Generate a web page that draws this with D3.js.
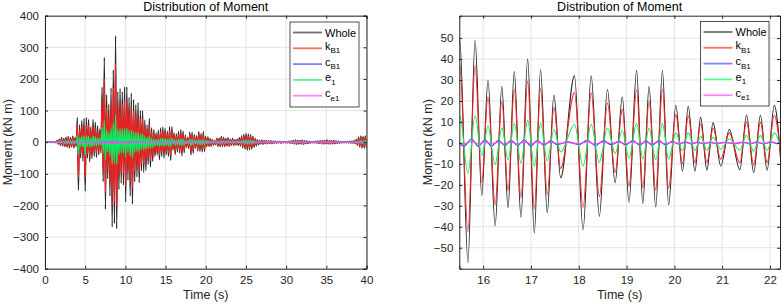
<!DOCTYPE html>
<html>
<head>
<meta charset="utf-8">
<script src="https://cdn.jsdelivr.net/npm/d3@7"></script>
<style>
  html, body { margin: 0; padding: 0; background: #fff; }
  svg { display: block; font-family: "Liberation Sans", Arial, Helvetica, sans-serif; }
</style>
</head>
<body>
<svg id="chart" width="782" height="304"></svg>
<script>
// ---- Left panel: whole record 0-40 s, one peak + one trough per cycle ----
const leftStart = 0.1;   // s, time of first peak
const leftPeriod = 0.28; // s, cycle length

const wholeTop = [0.5,0.5,1,1,2, 6,10,14,12,16,18,14,20,15,
  78,55,68,75,78,72,48,72,63,52,42,
  174,268,150,120,172,229,336,160,170,160,175,175,142,155,
  135,118,125,100,100,70,55,75,45,40,30,38,
  45,48,44,35,49,49,30,27,34,40,35,23,
  15,32,32,25,21,34,27,34,18,17,12,9,6,13,13,18,
  15,12,14,10,12,8,10, 14,20,25,28,26,24,18,12,
  8,6,7,5,6,4,5,3,3, 2,3,2,2,2,3,4, 6,7,5,6,7,5,4,3, 2,2,3,4,
  5,6,5,7,6,5,6,4, 3,2,2,2,2,3,3,5, 10,16,20,18,20];
const wholeBot = [-0.5,-0.5,-1,-1,-2, -6,-10,-12,-14,-16,-18,-15,-19,-14,
  -152,-50,-60,-155,-50,-62,-52,-45,-48,-40,-35,
  -125,-212,-115,-170,-268,-257,-273,-150,-130,-136,-189,-120,-170,-196,
  -125,-110,-128,-90,-95,-89,-70,-78,-60,-45,-40,-55,
  -45,-50,-40,-45,-57,-25,-39,-31,-35,-43,-33,-17,
  -20,-41,-35,-19,-28,-29,-31,-29,-14,-13,-13,-10,-8,-13,-14,-13,
  -14,-12,-13,-10,-11,-9,-10, -12,-18,-22,-25,-24,-22,-16,-12,
  -8,-6,-7,-5,-5,-4,-5,-3,-3, -2,-3,-2,-2,-2,-3,-4, -6,-7,-6,-6,-7,-5,-4,-3, -2,-2,-3,-4,
  -5,-6,-5,-6,-6,-5,-5,-4, -3,-2,-2,-2,-2,-3,-3,-5, -10,-15,-19,-18,-19];

const kB1Top = [0.4,0.4,0.7,0.7,1.5, 4,7,10,9,12,13,10,15,11,
  58,40,50,55,57,53,35,53,46,38,31,
  128,200,110,88,127,170,250,118,126,118,130,130,105,115,
  100,87,92,74,74,52,40,55,33,30,22,28,
  33,35,32,26,37,37,22,20,25,29,26,17,
  11,24,24,19,16,25,20,25,13,13,9,7,5,10,10,13,
  11,9,10,7,9,6,7, 10,15,18,21,19,18,13,9,
  6,4,5,4,4,3,4,2,2, 1.5,2,1.5,1.5,1.5,2,3, 4,5,4,4,5,4,3,2, 1.5,1.5,2,3,
  4,4,4,5,4,4,4,3, 2,1.5,1.5,1.5,1.5,2,2,4, 7,12,15,13,15];
const kB1Bot = [-0.4,-0.4,-0.7,-0.7,-1.5, -4,-7,-9,-10,-12,-13,-11,-14,-10,
  -112,-37,-44,-114,-37,-46,-38,-33,-35,-30,-26,
  -92,-157,-85,-126,-198,-190,-202,-111,-96,-100,-140,-89,-126,-145,
  -92,-81,-95,-67,-70,-66,-52,-58,-44,-33,-30,-41,
  -33,-37,-30,-33,-42,-19,-29,-23,-26,-31,-25,-12,
  -15,-31,-26,-14,-21,-21,-22,-22,-10,-9,-9,-7,-6,-9,-10,-9,
  -10,-9,-10,-7,-8,-7,-7, -9,-13,-16,-18,-18,-16,-12,-9,
  -6,-4,-5,-4,-4,-3,-4,-2,-2, -1.5,-2,-1.5,-1.5,-1.5,-2,-3, -4,-5,-4,-4,-5,-4,-3,-2, -1.5,-1.5,-2,-3,
  -4,-4,-4,-4,-4,-4,-4,-3, -2,-1.5,-1.5,-1.5,-1.5,-2,-2,-4, -7,-11,-14,-13,-14];

const e1Top = [0.1,0.1,0.3,0.3,0.5, 2,3,4,3,4,5,4,5,4,
  20,15,18,20,21,19,13,19,17,14,11,
  46,68,40,32,45,60,86,42,44,42,45,45,37,40,
  35,31,33,26,26,18,15,20,12,10,8,10,
  12,13,12,9,13,13,8,7,9,11,9,6,
  4,9,9,7,6,9,7,9,5,5,3.5,2.5,2,3.5,3.5,5,
  4,3,4,3,3,2,3, 4,5,7,7,7,6,5,3,
  2,1.5,2,1.3,1.5,1,1.3,0.8,0.8, 0.5,0.8,0.5,0.5,0.5,0.8,1, 1.5,2,1.3,1.5,2,1.3,1,0.8, 0.5,0.5,0.8,1,
  1.3,1.5,1.3,2,1.5,1.3,1.5,1, 0.8,0.5,0.5,0.5,0.5,0.8,0.8,1.3, 3,4,5,5,5];
const e1Bot = [-0.1,-0.1,-0.3,-0.3,-0.5, -2,-3,-3,-4,-4,-5,-4,-5,-4,
  -40,-13,-16,-41,-13,-16,-14,-12,-13,-10,-9,
  -33,-55,-30,-44,-70,-67,-71,-39,-34,-36,-49,-31,-44,-51,
  -33,-29,-33,-23,-25,-23,-18,-20,-16,-12,-10,-14,
  -12,-13,-10,-12,-15,-6,-10,-8,-9,-11,-8.5,-4.3,
  -5,-11,-9,-5,-7,-7.6,-8,-7.7,-3.7,-3.6,-3.5,-3,-2,-3.4,-4,-3.5,
  -4,-3,-3,-3,-3,-2,-3, -3,-5,-6,-7,-6,-6,-4,-3,
  -2,-1.5,-2,-1.3,-1.3,-1,-1.3,-0.8,-0.8, -0.5,-0.8,-0.5,-0.5,-0.5,-0.8,-1, -1.5,-2,-1.5,-1.5,-2,-1.3,-1,-0.8, -0.5,-0.5,-0.8,-1,
  -1.3,-1.5,-1.3,-1.5,-1.5,-1.3,-1.3,-1, -0.8,-0.5,-0.5,-0.5,-0.5,-0.8,-0.8,-1.3, -3,-4,-5,-5,-5];

// damping terms: amplitude per cycle (extrema sit between the stiffness extrema)
const cB1Amp = [0,0,0,0,0.1, 0.3,0.4,0.5,0.5,0.6,0.7,0.6,0.7,0.6,
  3,2,2.5,3,3,2.5,2,2.5,2.2,2,1.6,
  6,8,5,5,8,8,9,5,5,5,6,5,5,6,
  4.5,4,4.5,3.5,3.5,3,2.5,3,2,1.7,1.4,1.8,
  1.8,1.8,1.6,1.5,1.7,1.7,1.5,1.3,1.3,1.5,1.3,0.9,
  0.6,1.2,1.1,0.9,0.9,1.1,1,1,0.7,0.5,0.4,0.3,0.3,0.5,0.5,0.5,
  0.5,0.4,0.5,0.4,0.4,0.3,0.4, 0.5,0.7,0.8,0.9,0.9,0.8,0.6,0.4,
  0.3,0.2,0.2,0.2,0.2,0.1,0.2,0.1,0.1, 0.1,0.1,0.1,0.1,0.1,0.1,0.1, 0.2,0.2,0.2,0.2,0.2,0.2,0.1,0.1, 0.1,0.1,0.1,0.1,
  0.2,0.2,0.2,0.2,0.2,0.2,0.2,0.1, 0.1,0.1,0.1,0.1,0.1,0.1,0.1,0.2, 0.4,0.6,0.7,0.7,0.7];
const ce1Amp = [0,0,0,0,0, 0.1,0.2,0.2,0.2,0.2,0.3,0.2,0.3,0.2,
  1.2,0.8,1,1.2,1.2,1,0.8,1,0.9,0.8,0.6,
  2.5,3.5,2,2,3.5,3.5,4,2,2,2,2.5,2,2,2.5,
  2,1.6,1.8,1.4,1.4,1.2,1,1.2,0.8,0.7,0.6,0.7,
  0.7,0.7,0.6,0.6,0.7,0.7,0.6,0.5,0.5,0.6,0.5,0.4,
  0.2,0.5,0.5,0.4,0.4,0.5,0.4,0.4,0.3,0.2,0.2,0.1,0.1,0.2,0.2,0.2,
  0.2,0.2,0.2,0.2,0.2,0.1,0.2, 0.2,0.3,0.3,0.4,0.4,0.3,0.2,0.2,
  0.1,0.1,0.1,0.1,0.1,0.1,0.1,0.1,0.1, 0,0,0,0,0,0,0, 0.1,0.1,0.1,0.1,0.1,0.1,0,0, 0,0,0,0,
  0.1,0.1,0.1,0.1,0.1,0.1,0.1,0, 0,0,0,0,0,0,0,0.1, 0.2,0.2,0.3,0.3,0.3];

// ---- Right panel: zoom 15.5-22.2 s, extrema of each term ----
const rightT = [15.36,15.51,15.68,15.83,15.97,16.10,16.25,16.39,16.52,16.65,
  16.79,16.93,17.07,17.20,17.34,17.48,17.62,17.91,18.09,18.26,
  18.43,18.60,18.76,18.91,19.05,19.21,19.34,19.47,19.61,19.75,
  19.88,20.03,20.17,20.29,20.43,20.55,20.68,20.81,20.97,21.15,
  21.37,21.51,21.66,21.80,21.94,22.09,22.24];
const rightWhole = [-45,49,-57,49,-25,30,-39.5,27,-31,34,
  -35.5,40,-43,35,-33.4,23,-16.6,32,-41.4,32,
  -35,25.5,-19,22,-28.3,34.5,-29,27,-30.6,34.5,
  -29.5,18,-13.5,17.5,-13.5,12.3,-13,9.7,-11,6.4,
  -12.8,13.3,-14.2,13.2,-13,18,-13];
const rightKB1 = [-33,37,-42.4,37,-18.8,22,-29.5,20,-22.8,25.5,
  -26.2,29.5,-31.4,26,-24.7,17,-12.2,24,-30.8,24,
  -25.6,19,-14.1,16,-20.7,25.5,-21.5,20,-22.5,25.5,
  -21.7,13.5,-9.9,13,-9.4,9,-9.3,7,-7.8,4.8,
  -9.4,10,-10.5,9.8,-9.4,13.3,-9.6];
const rightE1 = [-11,13,-14.5,13,-6,8,-10.3,7.2,-8,9.2,
  -9.5,10.8,-11,9.3,-8.5,6.3,-4.3,8.8,-11,8.8,
  -9.2,7.1,-5,5.9,-7.3,9.2,-7.6,7.1,-8,9.2,
  -7.7,4.8,-3.7,4.8,-3.6,3.2,-3.5,2.7,-3,1.9,
  -3.4,3.7,-4,3.5,-3.5,4.8,-3.4];
const rightDampT = [15.435,15.595,15.755,15.90,16.035,16.175,16.32,16.455,16.585,16.72,
  16.86,17.00,17.135,17.27,17.41,17.55,17.765,18.00,18.175,18.345,
  18.515,18.68,18.835,18.98,19.13,19.275,19.405,19.54,19.68,19.815,
  19.955,20.10,20.23,20.36,20.49,20.615,20.745,20.89,21.06,21.26,
  21.44,21.585,21.73,21.87,22.015,22.165];
const rightCB1 = [1.5,-1.6,1.9,-1.6,1.5,-1.5,1.3,-1.3,1.3,-1.3,
  1.5,-1.5,1.3,-1.2,1.0,-0.8,0.5,-0.8,1.2,-1.2,
  1.1,-0.9,0.8,-0.9,1.1,-1.1,1.0,-1.1,1.1,-1.0,
  0.8,-0.6,0.5,-0.5,0.4,-0.4,0.3,-0.3,0.3,-0.4,
  0.4,-0.5,0.5,-0.5,0.5,-0.5];
const rightCE1 = [0.6,-0.7,0.8,-0.5,0.5,-0.5,0.5,-0.5,0.5,-0.5,
  0.5,-0.5,0.5,-0.5,0.4,-0.3,0.2,-0.4,0.5,-0.5,
  0.4,-0.3,0.3,-0.4,0.5,-0.4,0.4,-0.4,0.5,-0.4,
  0.3,-0.2,0.2,-0.2,0.2,-0.2,0.1,-0.1,0.1,-0.1,
  0.2,-0.2,0.2,-0.2,0.2,-0.2];

const leftXTicks = [0, 5, 10, 15, 20, 25, 30, 35, 40];
const leftYTicks = [-400, -300, -200, -100, 0, 100, 200, 300, 400];
const rightXTicks = [16, 17, 18, 19, 20, 21, 22];
const rightYTicks = [-50, -40, -30, -20, -10, 0, 10, 20, 30, 40, 50];

const seriesInfo = [
  { key: 'whole', name: 'Whole', sub: '',   color: '#262626' },
  { key: 'kB1',   name: 'k',     sub: 'B1', color: '#ff1f1f' },
  { key: 'cB1',   name: 'c',     sub: 'B1', color: '#4040ff' },
  { key: 'e1',    name: 'e',     sub: '1',  color: '#00f060' },
  { key: 'ce1',   name: 'c',     sub: 'e1', color: '#ff40ff' }
];

// build point lists
function zigzag(top, bot) {
  const pts = [];
  top.forEach((v, i) => {
    const t = leftStart + i * leftPeriod;
    pts.push({ t: t, v: v });
    pts.push({ t: t + leftPeriod / 2, v: bot[i] });
  });
  return pts;
}
function zigzagAmp(amp) {
  const pts = [];
  amp.forEach((a, i) => {
    const t = leftStart + i * leftPeriod;
    pts.push({ t: t - leftPeriod / 4, v: a });
    pts.push({ t: t + leftPeriod / 4, v: -a });
  });
  return pts;
}
const pair = (ts, vs) => ts.map((t, i) => ({ t: t, v: vs[i] }));

const leftData = {
  whole: zigzag(wholeTop, wholeBot),
  kB1: zigzag(kB1Top, kB1Bot),
  cB1: zigzagAmp(cB1Amp),
  e1: zigzag(e1Top, e1Bot),
  ce1: zigzagAmp(ce1Amp)
};
const rightData = {
  whole: pair(rightT, rightWhole),
  kB1: pair(rightT, rightKB1),
  cB1: pair(rightDampT, rightCB1),
  e1: pair(rightT, rightE1),
  ce1: pair(rightDampT, rightCE1)
};

const svg = d3.select('#chart');
const txt = '#262626';

function drawPanel(p) {
  const x = d3.scaleLinear().domain(p.xDomain).range([p.left, p.right]);
  const y = d3.scaleLinear().domain(p.yDomain).range([p.bottom, p.top]);
  const g = svg.append('g');

  // grid
  g.selectAll('.gx').data(p.xTicks).enter().append('line')
    .attr('x1', d => x(d)).attr('x2', d => x(d))
    .attr('y1', p.top).attr('y2', p.bottom)
    .attr('stroke', '#e3e3e3').attr('stroke-width', 1);
  g.selectAll('.gy').data(p.yTicks).enter().append('line')
    .attr('x1', p.left).attr('x2', p.right)
    .attr('y1', d => y(d)).attr('y2', d => y(d))
    .attr('stroke', '#e3e3e3').attr('stroke-width', 1);

  // lines
  const clipId = 'clip-' + p.id;
  svg.append('clipPath').attr('id', clipId).append('rect')
    .attr('x', p.left).attr('y', p.top)
    .attr('width', p.right - p.left).attr('height', p.bottom - p.top);
  const line = d3.line().x(d => x(d.t)).y(d => y(d.v)).curve(d3.curveMonotoneX);
  const lg = g.append('g').attr('clip-path', `url(#${clipId})`);
  seriesInfo.forEach(s => {
    lg.append('path').datum(p.data[s.key])
      .attr('d', line)
      .attr('fill', 'none')
      .attr('stroke', s.color)
      .attr('stroke-width', p.lineWidth)
      .attr('stroke-linejoin', 'round');
  });

  // axes (box with inward ticks)
  const fmt = d3.format('~g');
  const bottomAxis = d3.axisBottom(x).tickValues(p.xTicks).tickFormat(fmt).tickSize(-3).tickPadding(7);
  const leftAxis = d3.axisLeft(y).tickValues(p.yTicks).tickFormat(fmt).tickSize(-3).tickPadding(6);
  const ax = g.append('g').attr('transform', `translate(0,${p.bottom})`).call(bottomAxis);
  const ay = g.append('g').attr('transform', `translate(${p.left},0)`).call(leftAxis);
  g.append('g').attr('transform', `translate(0,${p.top})`)
    .call(d3.axisTop(x).tickValues(p.xTicks).tickSize(-3).tickFormat(''));
  g.append('g').attr('transform', `translate(${p.right},0)`)
    .call(d3.axisRight(y).tickValues(p.yTicks).tickSize(-3).tickFormat(''));
  g.selectAll('.domain').attr('stroke', txt).attr('stroke-width', 1);
  g.selectAll('.tick line').attr('stroke', txt);
  [ax, ay].forEach(a => a.selectAll('text')
    .attr('fill', txt).style('font-size', '11.5px')
    .style('font-family', '"Liberation Sans", Arial, sans-serif'));

  // title and labels
  g.append('text').attr('x', (p.left + p.right) / 2).attr('y', 11)
    .attr('text-anchor', 'middle').attr('fill', '#000')
    .style('font-size', '12.5px').text('Distribution of Moment');
  g.append('text').attr('x', (p.left + p.right) / 2).attr('y', 299)
    .attr('text-anchor', 'middle').attr('fill', txt)
    .style('font-size', '12.5px').text('Time (s)');
  g.append('text')
    .attr('transform', `translate(${p.yLabelX},${(p.top + p.bottom) / 2}) rotate(-90)`)
    .attr('text-anchor', 'middle').attr('fill', txt)
    .style('font-size', '12.5px').text('Moment (kN m)');

  // legend
  const L = p.legend;
  const leg = g.append('g');
  leg.append('rect').attr('x', L.x).attr('y', L.y)
    .attr('width', L.w).attr('height', L.h)
    .attr('fill', '#fff').attr('stroke', txt).attr('stroke-width', 0.8);
  seriesInfo.forEach((s, i) => {
    const ry = L.y + 10.5 + i * 15.8;
    leg.append('line')
      .attr('x1', L.x + 3).attr('x2', L.x + 32)
      .attr('y1', ry).attr('y2', ry)
      .attr('stroke', s.color).attr('stroke-width', 1.8).attr('opacity', 0.65);
    const t = leg.append('text').attr('x', L.x + 35).attr('y', ry + (s.sub ? 1.5 : 4))
      .attr('fill', '#000').style('font-size', '11px');
    t.append('tspan').text(s.name);
    if (s.sub) {
      t.append('tspan').attr('dy', 3.5).style('font-size', '8px').text(s.sub);
    }
  });
}

drawPanel({
  id: 'left', left: 45, right: 366.5, top: 15.7, bottom: 268.7,
  xDomain: [0, 40], yDomain: [-400, 400],
  xTicks: leftXTicks, yTicks: leftYTicks,
  data: leftData, lineWidth: 1.3, yLabelX: 11.5,
  legend: { x: 290, y: 22, w: 69, h: 85 }
});
drawPanel({
  id: 'right', left: 459.3, right: 780, top: 15.7, bottom: 268.7,
  xDomain: [15.5, 22.21], yDomain: [-60, 60.7],
  xTicks: rightXTicks, yTicks: rightYTicks,
  data: rightData, lineWidth: 1.1, yLabelX: 432,
  legend: { x: 700.5, y: 21.5, w: 68.5, h: 84.5 }
});
</script>
</body>
</html>
